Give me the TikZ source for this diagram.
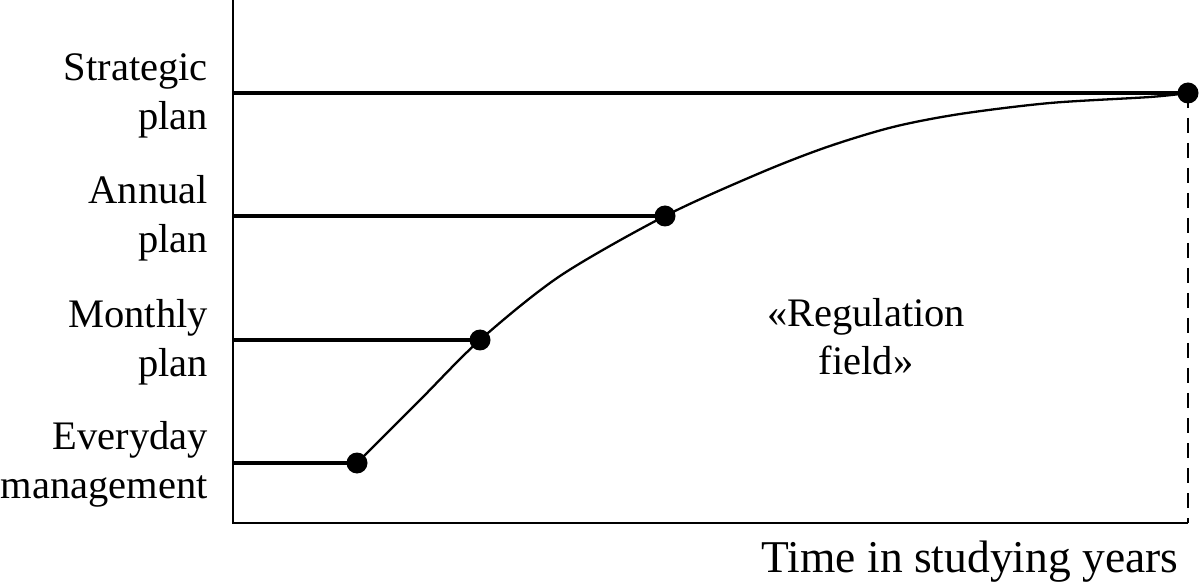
\documentclass[tikz,border=0pt]{standalone}
\usepackage{fontspec}
\setmainfont{Liberation Serif}
\begin{document}
\begin{tikzpicture}[x=1pt,y=-1pt,
  lbl/.style={font=\fontsize{40.5}{49}\selectfont, inner sep=0pt, align=right, anchor=base east},
  ctr/.style={font=\fontsize{40.5}{48}\selectfont, inner sep=0pt, align=center, anchor=base},
  axis/.style={line width=2.6pt},
  planline/.style={line width=4.5pt},
  curveline/.style={line width=2.3pt},
  dot/.style={circle, fill=black, inner sep=0pt, minimum size=21pt},
  dashline/.style={line width=2pt, dash pattern=on 15pt off 10pt}]
\useasboundingbox (0,0) rectangle (1200,585);
% coordinates
\coordinate (top) at (233,0);
\coordinate (origin) at (233,523);
\coordinate (xend) at (1188,523);
\coordinate (a1) at (233,93);
\coordinate (a2) at (233,216);
\coordinate (a3) at (233,340);
\coordinate (a4) at (233,463);
\coordinate (p1) at (1188,93);
\coordinate (p2) at (665,216);
\coordinate (p3) at (480,340);
\coordinate (p4) at (357,463);
% axes
\draw[axis] (top) -- (origin) -- (xend);
\draw[dashline] (p1) -- (xend);
% plan lines
\draw[planline] (a1) -- (p1);
\draw[planline] (a2) -- (p2);
\draw[planline] (a3) -- (p3);
\draw[planline] (a4) -- (p4);
% curve
\draw[curveline] plot[smooth, tension=0.5] coordinates {(p4) (420,400) (p3) (560,276) (p2) (760,173) (827,147) (893,127) (960,114) (1050,103) (1150,97) (p1)};
% dots
\node[dot] (d1) at (p1) {};
\node[dot] (d2) at (p2) {};
\node[dot] (d3) at (p3) {};
\node[dot] (d4) at (p4) {};
% labels
\node[lbl] (l1) at (208,130) {Strategic\\plan};
\node[lbl] (l2) at (208,253) {Annual\\plan};
\node[lbl] (l3) at (208,377) {Monthly\\plan};
\node[lbl] (l4) at (208,498) {Everyday\\management};
\node[ctr] (reg) at (866,375) {«Regulation\\field»};
\node[font=\fontsize{45.5}{49}\selectfont, inner sep=0pt, anchor=base] (time) at (970,572) {Time in studying years};
\end{tikzpicture}
\end{document}
